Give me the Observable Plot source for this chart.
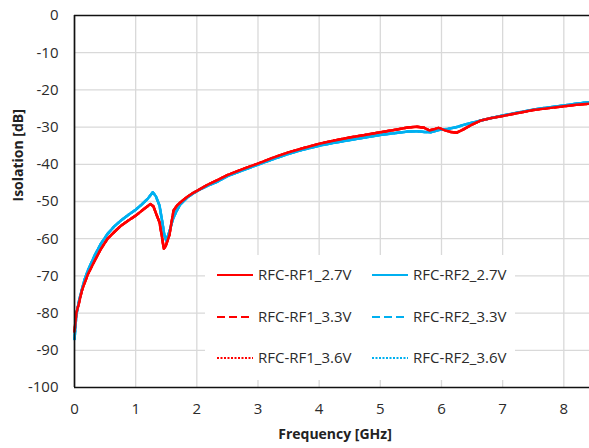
<!DOCTYPE html>
<html>
<head>
<meta charset="utf-8">
<script src="https://cdn.jsdelivr.net/npm/d3@7"></script>
<script src="https://cdn.jsdelivr.net/npm/@observablehq/plot@0.6"></script>
<style>
  html, body { margin: 0; padding: 0; background: #fff; }
  #wrap { position: relative; width: 589px; height: 448px; overflow: hidden; font-family: 'Open Sans', sans-serif; }
  #legend { position: absolute; left: 205px; top: 255px; width: 310px; height: 125px; background: #fff; }
  #legend svg { position: absolute; left: 0; top: 0; }
  #legend text { font-family: 'Open Sans', sans-serif; font-size: 15px; fill: #2b2b2b; }
</style>
</head>
<body>
<div id="wrap"></div>
<script>
// ---- data ----
const xTicks = [0, 1, 2, 3, 4, 5, 6, 7, 8];
const yTicks = [-100, -90, -80, -70, -60, -50, -40, -30, -20, -10, 0];

const freqRF1 = [0, 0.03, 0.07, 0.12, 0.16, 0.22, 0.33, 0.43, 0.54, 0.65, 0.76, 0.88, 1.0, 1.12, 1.2, 1.24, 1.29, 1.34, 1.39, 1.43, 1.46, 1.49, 1.55, 1.62, 1.68, 1.75, 1.84, 1.95, 2.06, 2.2, 2.33, 2.5, 2.75, 3.0, 3.25, 3.5, 3.75, 4.0, 4.25, 4.5, 4.75, 5.0, 5.25, 5.45, 5.6, 5.72, 5.8, 5.88, 5.95, 6.05, 6.15, 6.25, 6.36, 6.5, 6.63, 6.8, 7.0, 7.25, 7.5, 7.75, 8.0, 8.2, 8.42];
const rf1_27V = [-85, -80, -77.5, -74, -72.1, -69.5, -65.9, -62.8, -60.0, -58.2, -56.5, -55.1, -53.8, -52.2, -51.2, -50.7, -51.3, -53.5, -55.6, -59.5, -62.7, -62.0, -59.1, -52.4, -51.0, -50.0, -48.8, -47.6, -46.6, -45.3, -44.3, -42.9, -41.3, -39.8, -38.2, -36.8, -35.6, -34.5, -33.6, -32.8, -32.1, -31.4, -30.7, -30.1, -29.9, -30.2, -30.9, -30.6, -30.2, -30.8, -31.3, -31.5, -30.6, -29.3, -28.3, -27.6, -27.0, -26.2, -25.4, -24.9, -24.4, -24.0, -23.7];
const rf1_33V = rf1_27V;
const rf1_36V = rf1_27V;

const freqRF2 = [0, 0.03, 0.07, 0.1, 0.16, 0.22, 0.33, 0.43, 0.54, 0.65, 0.76, 0.88, 1.0, 1.1, 1.2, 1.28, 1.33, 1.39, 1.44, 1.47, 1.5, 1.55, 1.61, 1.67, 1.73, 1.84, 1.95, 2.06, 2.2, 2.33, 2.5, 2.75, 3.0, 3.25, 3.5, 3.75, 4.0, 4.25, 4.5, 4.75, 5.0, 5.25, 5.45, 5.6, 5.72, 5.82, 5.95, 6.1, 6.25, 6.36, 6.5, 6.63, 6.8, 7.0, 7.25, 7.5, 7.75, 8.0, 8.2, 8.42];
const rf2_27V = [-87, -80.5, -77, -75, -71.2, -68.5, -64.5, -61.4, -58.7, -56.7, -55.1, -53.6, -52.2, -50.8, -49.2, -47.5, -48.6, -51.1, -56, -59.1, -60.5, -58.2, -54.7, -52.5, -50.8, -49.0, -47.7, -46.7, -45.6, -44.7, -43.2, -41.6, -40.1, -38.6, -37.2, -36.0, -35.0, -34.2, -33.5, -32.8, -32.1, -31.6, -31.2, -31.1, -31.3, -31.4, -30.8, -30.5, -30.0, -29.4, -28.8, -28.3, -27.6, -26.9, -26.1, -25.3, -24.7, -24.2, -23.7, -23.3];
const rf2_33V = rf2_27V;
const rf2_36V = rf2_27V;

const seriesNames = ["RFC-RF1_2.7V", "RFC-RF2_2.7V", "RFC-RF1_3.3V", "RFC-RF2_3.3V", "RFC-RF1_3.6V", "RFC-RF2_3.6V"];
const seriesColors = ["#FF0000", "#00B0F0", "#FF0000", "#00B0F0", "#FF0000", "#00B0F0"];
const seriesDash = [null, null, "8,4", "8,4", "2,1.5", "2,1.5"];

// ---- build tables ----
const toRows = (fs, vs) => fs.map((f, i) => ({f, v: vs[i]}));
const tables = [
  toRows(freqRF1, rf1_27V), toRows(freqRF2, rf2_27V),
  toRows(freqRF1, rf1_33V), toRows(freqRF2, rf2_33V),
  toRows(freqRF1, rf1_36V), toRows(freqRF2, rf2_36V)
];
// draw order: dotted, dashed underneath; solid RF2 then RF1 on top
const order = [5, 4, 3, 2, 1, 0];

const chart = Plot.plot({
  width: 589,
  height: 448,
  marginLeft: 74,
  marginRight: 0,
  marginTop: 15,
  marginBottom: 61,
  style: {fontFamily: "'Open Sans', sans-serif", fontSize: "15px", color: "#2b2b2b", background: "white", overflow: "visible"},
  x: {domain: [0, 8.42], ticks: xTicks, tickSize: 0, tickPadding: 16, tickFormat: d => String(d), label: null},
  y: {domain: [-100, 0], ticks: yTicks, tickSize: 0, tickPadding: 16, tickFormat: d => String(d), label: null},
  marks: [
    Plot.ruleX(xTicks.slice(1), {stroke: "#d9d9d9", strokeWidth: 1.3}),
    Plot.ruleY(yTicks.slice(1, -1), {stroke: "#d9d9d9", strokeWidth: 1.3}),
    ...order.map(i => Plot.line(tables[i], {
      x: "f", y: "v", stroke: seriesColors[i], strokeWidth: 2.5,
      strokeDasharray: seriesDash[i] || undefined
    })),
    Plot.ruleY([-100, 0], {stroke: "#111", strokeWidth: 1.7}),
    Plot.ruleX([0], {stroke: "#111", strokeWidth: 1.7}),
    Plot.text(["Frequency [GHz]"], {frameAnchor: "bottom", dy: 51, dx: 3, fontWeight: "bold", fontSize: 14, fill: "#222"}),
    Plot.text(["Isolation [dB]"], {frameAnchor: "left", dx: -56, rotate: -90, fontWeight: "bold", fontSize: 14, fill: "#222"})
  ]
});

const wrap = document.getElementById("wrap");
wrap.appendChild(chart);

// ---- legend (in-plot box) ----
const legend = document.createElement("div");
legend.id = "legend";
const ns = "http://www.w3.org/2000/svg";
const lsvg = document.createElementNS(ns, "svg");
lsvg.setAttribute("width", 310);
lsvg.setAttribute("height", 125);
const rowY = [20, 62, 103];
const colX = [12, 167];
seriesNames.forEach((name, i) => {
  const row = Math.floor(i / 2), col = i % 2;
  const y = rowY[row], x0 = colX[col];
  const ln = document.createElementNS(ns, "line");
  ln.setAttribute("x1", x0); ln.setAttribute("x2", x0 + 36);
  ln.setAttribute("y1", y); ln.setAttribute("y2", y);
  ln.setAttribute("stroke", seriesColors[i]);
  ln.setAttribute("stroke-width", 2.2);
  if (seriesDash[i]) ln.setAttribute("stroke-dasharray", seriesDash[i]);
  lsvg.appendChild(ln);
  const t = document.createElementNS(ns, "text");
  t.setAttribute("x", x0 + 41);
  t.setAttribute("y", y);
  t.setAttribute("dy", "0.35em");
  t.textContent = name;
  lsvg.appendChild(t);
});
legend.appendChild(lsvg);
wrap.appendChild(legend);
</script>
</body>
</html>
